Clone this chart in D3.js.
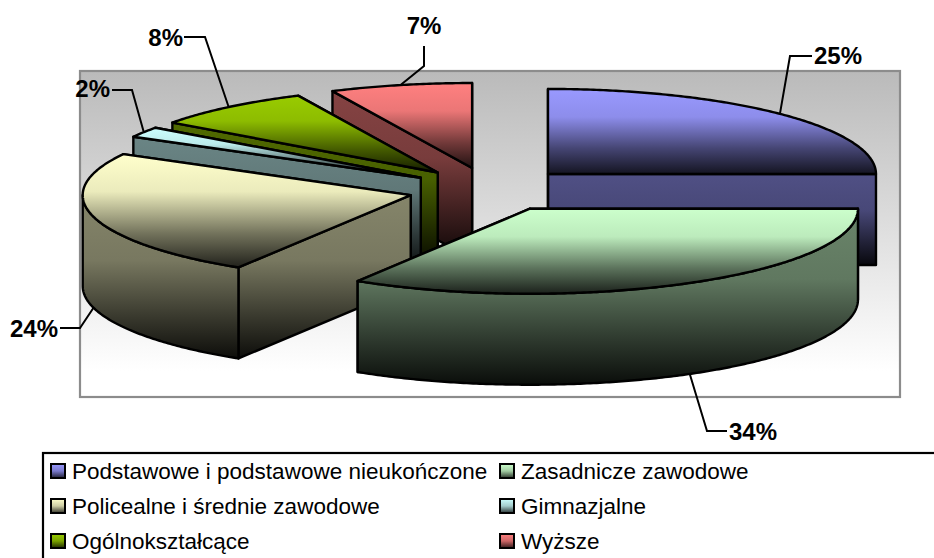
<!DOCTYPE html>
<html><head><meta charset="utf-8">
<script src="https://cdn.jsdelivr.net/npm/d3@7"></script>
<style>html,body{margin:0;padding:0;background:#fff;overflow:hidden}svg{display:block}text{font-family:"Liberation Sans",Arial,sans-serif;fill:#000}</style>
</head><body><svg id="c" width="934" height="558"></svg>
<script>
const categories = ["Podstawowe i podstawowe nieukończone","Zasadnicze zawodowe","Policealne i średnie zawodowe","Gimnazjalne","Ogólnokształcące","Wyższe"];
const values = [25,33.8,24.2,2,8,7];
const colors = ["#9999ff","#ccffcc","#ffffcc","#ccffff","#99cc00","#ff8080"];
const drawOrder = [0,5,4,3,2,1];
// leader-line elbows and label anchors, one per slice
const leaderElbows = [[[790,56],[812,56]],[[707,431],[727,431]],[[80,328],[60,328]],[[132,90],[112,90]],[[205,37],[184,37]],[[424,66],[424,46]]];
const labelAnchors = [[814,64,"start"],[729,440,"start"],[58,337,"end"],[110,97,"end"],[183,46,"end"],[424,34,"middle"]];

const W=934,H=558, cx=490, cy=189.5, rx=328, ry=85, depth=91, explodeX=82, explodeY=22, sw=2.4;
const svg=d3.select("#c"), defs=svg.append("defs");
const shade=(c,f)=>{const r=d3.rgb(c);return d3.rgb(r.r*f,r.g*f,r.b*f).formatHex();};
function grad(id,stops,attrs){
  const g=defs.append("linearGradient").attr("id",id);
  Object.entries(attrs).forEach(([k,v])=>g.attr(k,v));
  stops.forEach(([o,col])=>g.append("stop").attr("offset",o).attr("stop-color",col));
}
const topStops=c=>[[0,c],[.33,shade(c,.92)],[.7,shade(c,.45)],[1,shade(c,.13)]];
const sideStops=c=>[[0,shade(c,.52)],[.4,shade(c,.47)],[.75,shade(c,.22)],[1,shade(c,.05)]];
const vert={x1:0,y1:0,x2:0,y2:1};

// plot wall
grad("bg",[[0,"#bababa"],[.92,"#ffffff"],[1,"#ffffff"]],vert);
svg.append("rect").attr("x",80).attr("y",71).attr("width",820).attr("height",326)
  .attr("fill","url(#bg)").attr("stroke","#8c8c8c").attr("stroke-width",2.2);

const arcs=d3.pie().sort(null).value(d=>d)(values);
const line=d3.line();
const slices=arcs.map((a,i)=>{
  const mid=(a.startAngle+a.endAngle)/2;
  const c=[cx+explodeX*Math.sin(mid), cy-explodeY*Math.cos(mid)];
  const p=(t,dz=0)=>[c[0]+rx*Math.sin(t), c[1]-ry*Math.cos(t)+dz];
  const rim=(t0,t1,dz=0)=>{const n=Math.max(2,Math.ceil(Math.abs(t1-t0)/.01));
    return d3.range(n+1).map(k=>p(t0+(t1-t0)*k/n,dz));};
  return {i,a,mid,c,p,rim};
});

slices.forEach(s=>{
  const col=colors[s.i], a=s.a;
  const vis0=Math.max(a.startAngle,Math.PI/2), vis1=Math.min(a.endAngle,Math.PI*1.5);
  const hasOuter=vis1>vis0+1e-6;
  const ys=[s.c[1]];
  if(a.startAngle>=Math.PI/2-1e-6) ys.push(s.p(a.startAngle)[1]);
  if(hasOuter) ys.push(...s.rim(vis0,vis1).map(d=>d[1]));
  const y0=d3.min(ys), y1=d3.max(ys)+depth;
  grad("side"+s.i,sideStops(col),{gradientUnits:"userSpaceOnUse",x1:0,x2:0,y1:y0,y2:y1});
  grad("top"+s.i,topStops(col),vert);
  const g=svg.append("g").attr("data-i",s.i);
  s.g=g;
  const wall=pts=>g.append("path").attr("d",line(pts)+"Z").attr("fill","url(#side"+s.i+")")
    .attr("stroke","#000").attr("stroke-width",sw).attr("stroke-linejoin","round");
  const radial=t=>{const r=s.p(t);wall([s.c,r,[r[0],r[1]+depth],[s.c[0],s.c[1]+depth]]);};
  radial(a.endAngle);
  radial(a.startAngle);
  if(hasOuter) wall([...s.rim(vis0,vis1),...s.rim(vis1,vis0,depth)]);
  g.append("path").attr("d",line([s.c,...s.rim(a.startAngle,a.endAngle)])+"Z")
    .attr("fill","url(#top"+s.i+")").attr("stroke","#000").attr("stroke-width",sw).attr("stroke-linejoin","round");
});
// painter's order, back to front
drawOrder.forEach(i=>slices[i].g.raise());

// leaders and labels
const labels=svg.append("g");
slices.forEach(s=>{
  const onFront=Math.cos(s.mid)<0 ;
  const start=s.p(s.mid,onFront?depth:0);
  labels.append("path").attr("d",line([start,...leaderElbows[s.i]])).attr("fill","none")
    .attr("stroke","#000").attr("stroke-width",2);
  const [x,y,anc]=labelAnchors[s.i];
  labels.append("text").attr("x",x).attr("y",y).attr("text-anchor",anc)
    .attr("font-size",24).attr("font-weight","bold").text(Math.round(values[s.i])+"%");
});

// legend
svg.append("rect").attr("x",43).attr("y",453).attr("width",930).attr("height",140)
  .attr("fill","#fff").attr("stroke","#000").attr("stroke-width",2.2);
const legendX=[50,499], legendY=[463,498,533];
categories.forEach((name,i)=>{
  const x=legendX[i%2], y=legendY[Math.floor(i/2)];
  grad("leg"+i,[[0,colors[i]],[.5,shade(colors[i],.8)],[1,shade(colors[i],.2)]],vert);
  svg.append("rect").attr("x",x+1).attr("y",y+1).attr("width",14).attr("height",14)
    .attr("fill","url(#leg"+i+")").attr("stroke","#000").attr("stroke-width",2);
  svg.append("text").attr("x",x+22).attr("y",y+16).attr("font-size",22.5).text(name);
});
</script></body></html>
